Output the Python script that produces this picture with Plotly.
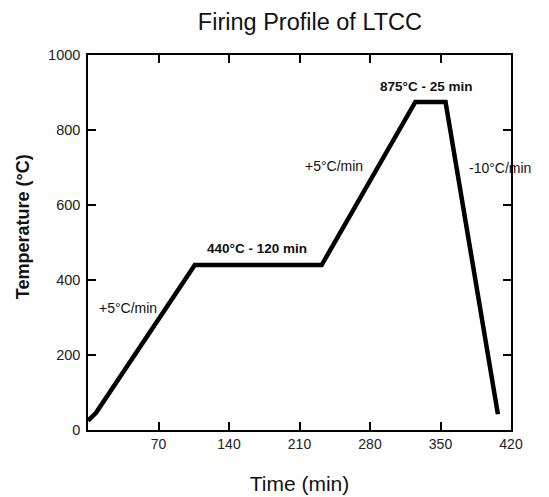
import plotly.graph_objects as go

# Firing profile data (time in min, temperature in °C)
time_min = [0, 3, 8, 106, 232, 325, 355, 407]
temp_c = [25, 32, 46, 440, 440, 875, 875, 42]

x_ticks = [70, 140, 210, 280, 350, 420]
y_ticks = [0, 200, 400, 600, 800, 1000]

labels = ["440°C - 120 min", "875°C - 25 min", "+5°C/min", "+5°C/min", "-10°C/min"]
label_x = [167.5, 336, 40, 244, 409]
label_y = [483, 915, 325, 704, 699]
label_bold = [True, True, False, False, False]

FONT = "Liberation Sans, Arial, sans-serif"

fig = go.Figure()
fig.add_trace(go.Scatter(
    x=time_min, y=temp_c, mode="lines",
    line=dict(color="black", width=4.5),
    hoverinfo="skip", showlegend=False,
))

for t, x, y, b in zip(labels, label_x, label_y, label_bold):
    fig.add_annotation(
        x=x, y=y, xref="x", yref="y", text=f"<b>{t}</b>" if b else t,
        showarrow=False, font=dict(family=FONT, size=13.5 if b else 14, color="#111"),
    )

fig.add_annotation(
    x=-0.18, y=0.543, xref="paper", yref="paper", text="<b>Temperature (°C)</b>",
    textangle=-90, showarrow=False, font=dict(family=FONT, size=18, color="#111"),
)

fig.update_layout(
    width=549, height=497,
    margin=dict(l=80, r=46, t=47, b=75),
    paper_bgcolor="white", plot_bgcolor="white",
    title=dict(text="Firing Profile of LTCC", x=0.55, xanchor="center", y=0.972, yanchor="middle",
               font=dict(family=FONT, size=23.5, color="#111")),
    font=dict(family=FONT, color="#222"),
)
fig.update_xaxes(
    range=[0, 420], tickvals=x_ticks, ticks="inside", ticklen=8, tickwidth=1.5,
    tickcolor="black", showline=True, linecolor="black", linewidth=1.5, mirror="ticks",
    showgrid=False, zeroline=False, tickfont=dict(family=FONT, size=14, color="#222"),
    title=dict(text="Time (min)", font=dict(family=FONT, size=21, color="#111"), standoff=26),
)
fig.update_yaxes(
    range=[0, 1000], tickvals=y_ticks, ticks="inside", ticklen=8, tickwidth=1.5,
    tickcolor="black", showline=True, linecolor="black", linewidth=1.5, mirror="ticks",
    showgrid=False, zeroline=False, tickfont=dict(family=FONT, size=14.5, color="#222"),
    ticklabelstandoff=3,
)

fig.write_html("out.html")
